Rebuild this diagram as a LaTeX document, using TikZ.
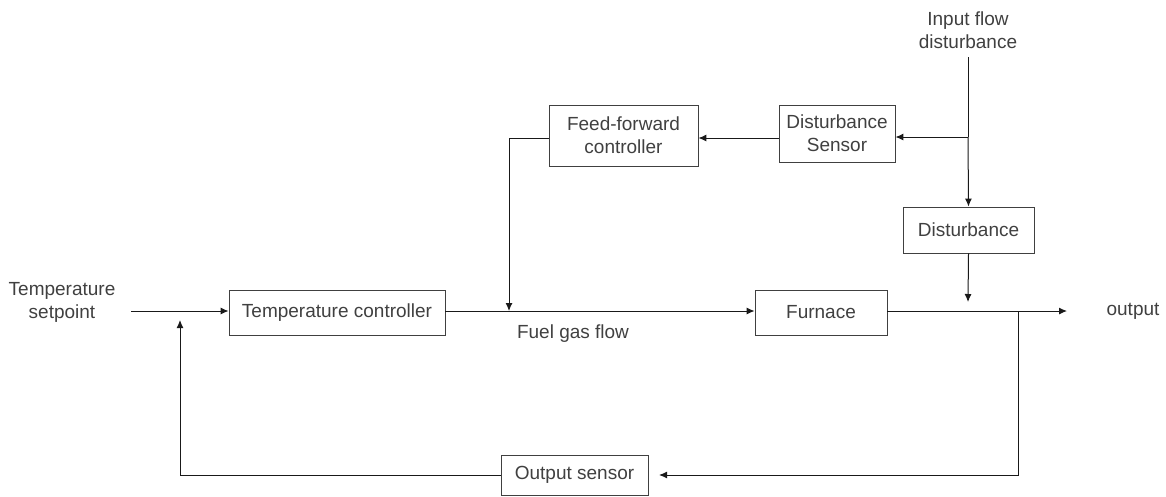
\documentclass[tikz,border=0pt]{standalone}
\usepackage{fontspec}
\setmainfont{Liberation Sans}
\usetikzlibrary{arrows.meta}
\begin{document}
\begin{tikzpicture}[x=1pt,y=-1pt,
  blk/.style={draw=black!75,line width=0.9pt,inner sep=0pt,align=center,font=\fontsize{19}{23}\selectfont,text=black!75},
  lbl/.style={inner sep=0pt,align=center,font=\fontsize{19}{23}\selectfont,text=black!75},
  conn/.style={draw=black!90,line width=1pt},
  arr/.style={conn,-{Latex[length=8pt,width=7pt]}}]
\useasboundingbox (0,0) rectangle (1166,496);
% blocks
\node[blk,minimum width=216pt,minimum height=45pt] (tc) at (337,312.5) {Temperature controller};
\node[blk,minimum width=132pt,minimum height=45pt] (fur) at (821,312.5) {Furnace};
\node[blk,minimum width=149pt,minimum height=61pt] (ff) at (623.5,135.5) {Feed-forward\\controller};
\node[blk,minimum width=116pt,minimum height=57pt] (ds) at (837,133.5) {Disturbance\\Sensor};
\node[blk,minimum width=131pt,minimum height=46pt] (dist) at (968.5,230) {Disturbance};
\node[blk,minimum width=147pt,minimum height=40pt] (os) at (574.5,475) {Output sensor};
% labels
\node[lbl] (sp) at (62,302) {Temperature\\setpoint};
\node[lbl] (inp) at (968,30) {Input flow\\disturbance};
\node[lbl] (out) at (1133,311) {output};
\node[lbl] (fuel) at (573,334) {Fuel gas flow};
% coordinates
\coordinate (s0) at (131,311);
\coordinate (j1) at (509,311);
\coordinate (fbtip) at (180,320);
\coordinate (ffc) at (509,138);
\coordinate (in0) at (968,57);
\coordinate (inb) at (968,137);
\coordinate (dtip) at (968,302);
\coordinate (otip) at (1067,311);
\coordinate (ob) at (1018,311);
\coordinate (obl) at (1018,475);
\coordinate (ostip) at (659,475);
\coordinate (fbl) at (180,475);
% connectors
\draw[arr] (s0) -- (tc.west |- s0);
\draw[conn] (tc.east |- s0) -- (j1);
\draw[arr] (j1) -- (fur.west |- j1);
\draw[arr] (fur.east |- otip) -- (otip);
\draw[arr] (ff.west |- ffc) -- (ffc) -- (j1);
\draw[arr] (ds.west |- ffc) -- (ff.east |- ffc);
\draw[conn] (in0) -- (inb);
\draw[arr] (inb) -- (ds.east |- inb);
\draw[arr] (inb) -- (dist.north);
\draw[arr] (dist.south) -- (dtip);
\draw[arr] (ob) -- (obl) -- (ostip);
\draw[arr] (os.west |- fbl) -- (fbl) -- (fbtip);
\end{tikzpicture}
\end{document}
